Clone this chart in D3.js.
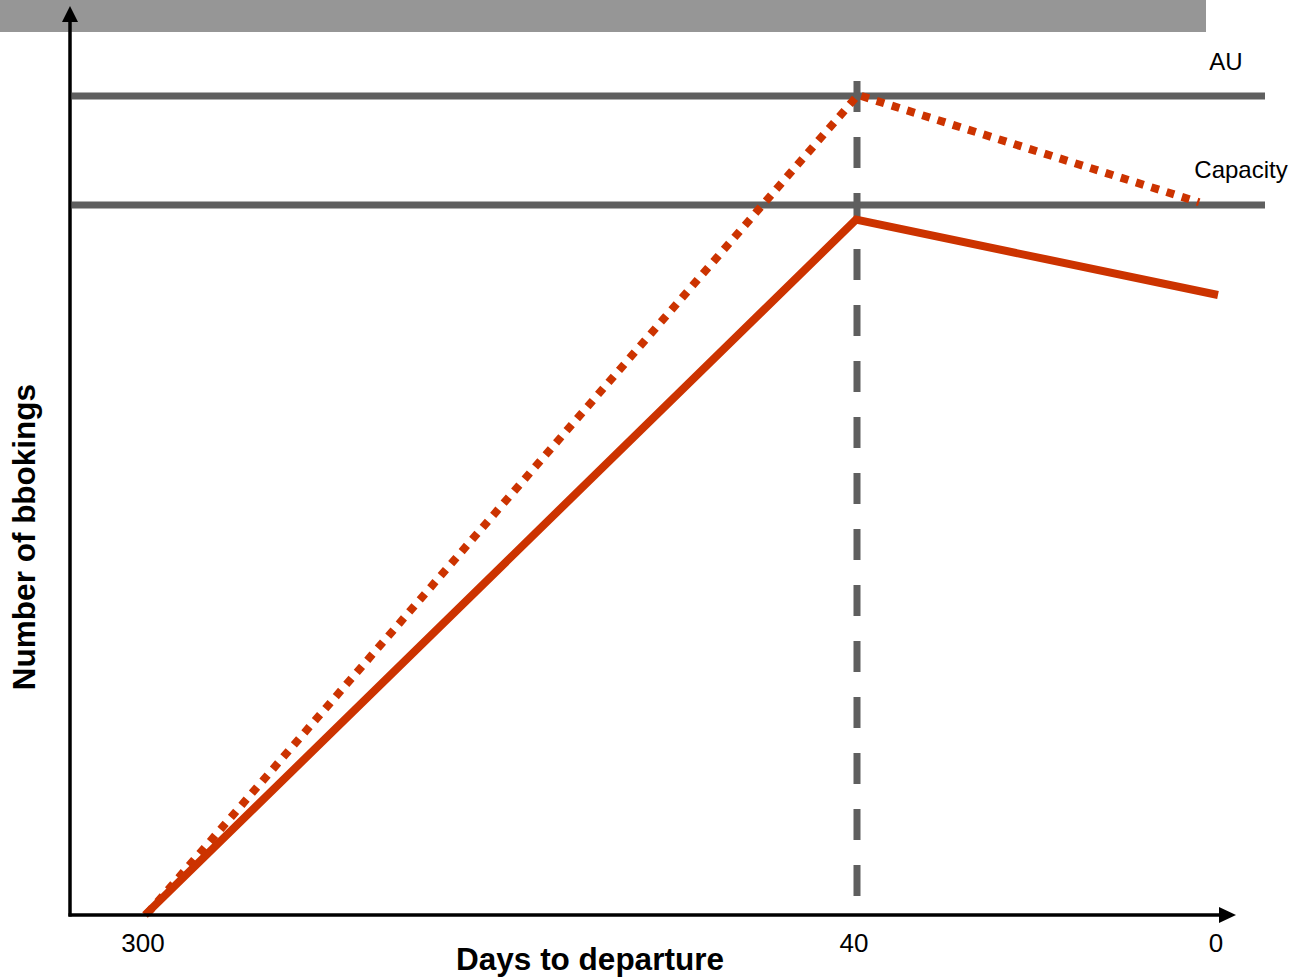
<!DOCTYPE html>
<html><head><meta charset="utf-8">
<script src="https://cdn.jsdelivr.net/npm/d3@7"></script>
<style>html,body{margin:0;padding:0;background:#fff;}svg{display:block;}</style>
</head><body>
<svg id="chart" width="1293" height="977"></svg>
<script>
// ---- data ----
const dayTicks = [300, 40, 0];
const solidDays = [300, 40, 0];
const solidBookings = [0, 84.9, 75.7];
const dottedDays = [300, 40, 2.3];
const dottedBookings = [0, 100, 86.9];
const refLabels = ["AU", "Capacity"];
const refValues = [100, 86.7];
const markerDay = 40;

const svg = d3.select("#chart");
const red = "#cc3300", grey = "#5f5f5f";
const font = "Liberation Sans, Arial, sans-serif";

// piecewise x scale (schematic)
const x = d3.scaleLinear().domain(dayTicks).range([145, 856, 1218]);
const y = d3.scaleLinear().domain([0, 100]).range([915, 96]);

// header band
svg.append("rect").attr("x", 0).attr("y", 0).attr("width", 1206).attr("height", 32).attr("fill", "#969696");

// reference lines
const refG = svg.append("g");
refValues.forEach((v, i) => {
  refG.append("line").attr("x1", 72).attr("x2", 1265).attr("y1", y(v)).attr("y2", y(v))
    .attr("stroke", grey).attr("stroke-width", 7);
});
refG.append("text").attr("x", 1226).attr("y", y(refValues[0]) - 26).attr("text-anchor", "middle")
  .attr("font-family", font).attr("font-size", 24).attr("fill", "#000").text(refLabels[0]);
refG.append("text").attr("x", 1241).attr("y", y(refValues[1]) - 27).attr("text-anchor", "middle")
  .attr("font-family", font).attr("font-size", 24).attr("fill", "#000").text(refLabels[1]);

// vertical dashed marker
svg.append("line").attr("x1", x(markerDay)+1).attr("x2", x(markerDay)+1).attr("y1", 81).attr("y2", 896)
  .attr("stroke", grey).attr("stroke-width", 7).attr("stroke-dasharray", "31,25");

// series
const line = d3.line().x(d => x(d[0])).y(d => y(d[1]));
svg.append("path").datum(solidDays.map((d, i) => [d, solidBookings[i]]))
  .attr("d", line).attr("fill", "none").attr("stroke", red).attr("stroke-width", 8);
svg.append("path").datum(dottedDays.map((d, i) => [d, dottedBookings[i]]))
  .attr("d", line).attr("fill", "none").attr("stroke", red).attr("stroke-width", 8)
  .attr("stroke-dasharray", "8,8").attr("transform", "translate(2,-1)");

// axes
const y0 = y(0), xLeft = 70;
svg.append("line").attr("x1", xLeft).attr("x2", xLeft).attr("y1", y0 + 1.5).attr("y2", 20)
  .attr("stroke", "#000").attr("stroke-width", 3.5);
svg.append("path").attr("d", `M${xLeft-8},22 L${xLeft},6 L${xLeft+8},22 Z`).attr("fill", "#000");
svg.append("line").attr("x1", xLeft - 1.5).attr("x2", 1222).attr("y1", y0).attr("y2", y0)
  .attr("stroke", "#000").attr("stroke-width", 3.5);
svg.append("path").attr("d", `M1219,${y0-8} L1236,${y0} L1219,${y0+8} Z`).attr("fill", "#000");

// tick labels
svg.append("g").selectAll("text").data(dayTicks).join("text")
  .attr("x", d => x(d) - 2).attr("y", 952).attr("text-anchor", "middle")
  .attr("font-family", font).attr("font-size", 26).attr("fill", "#000")
  .text(d => d);

// axis titles
svg.append("text").attr("x", 590).attr("y", 970).attr("text-anchor", "middle")
  .attr("font-family", font).attr("font-size", 31.5).attr("font-weight", "bold")
  .attr("fill", "#000").text("Days to departure");
svg.append("text").attr("transform", "translate(35,537) rotate(-90)").attr("text-anchor", "middle")
  .attr("font-family", font).attr("font-size", 31.5).attr("font-weight", "bold")
  .attr("fill", "#000").text("Number of bbokings");
</script>
</body></html>
